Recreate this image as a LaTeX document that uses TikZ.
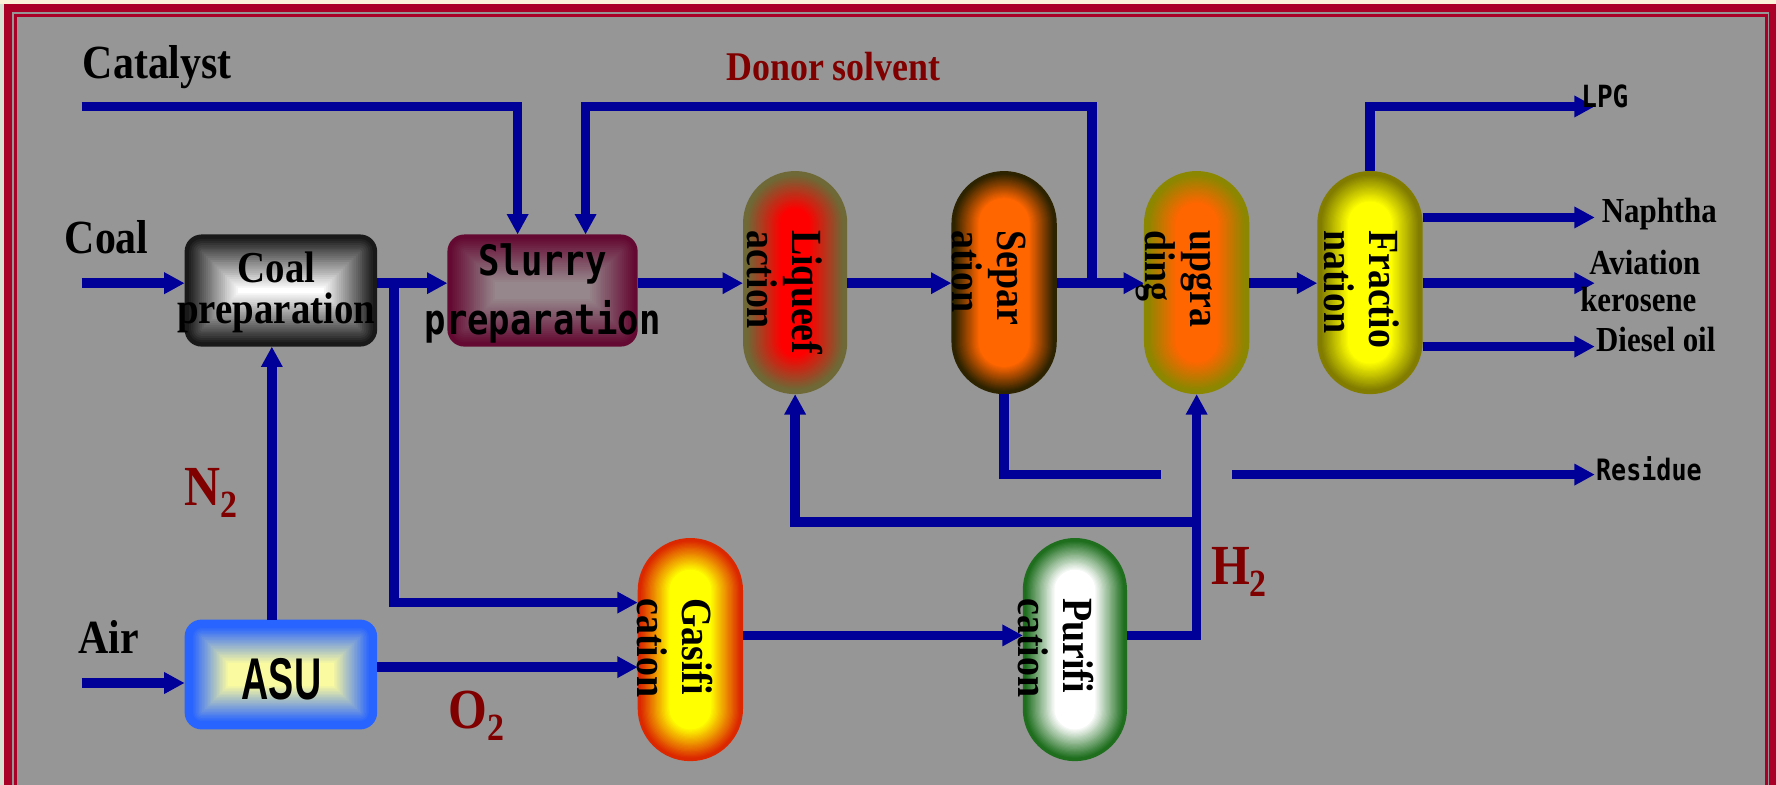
\documentclass[tikz,border=0pt]{standalone}
\usepackage{fontspec}
\setmainfont{Liberation Serif}
\newfontfamily\tms[FakeStretch=0.88]{Liberation Serif}
\newfontfamily\gothic[FakeStretch=0.85]{DejaVu Sans Mono}
\newfontfamily\narrowsans[FakeStretch=0.64]{Liberation Sans}
\usetikzlibrary{arrows.meta}
\definecolor{bggray}{RGB}{150,150,150}
\definecolor{cream}{RGB}{250,243,218}
\definecolor{leftstrip}{RGB}{215,222,210}
\definecolor{framered}{RGB}{170,0,40}
\definecolor{flowblue}{RGB}{0,0,153}
\definecolor{labelred}{RGB}{128,0,0}
\definecolor{cpOut}{RGB}{25,25,25}
\definecolor{cpIn}{RGB}{255,255,255}
\definecolor{slOut}{RGB}{100,10,50}
\definecolor{slIn}{RGB}{150,135,140}
\definecolor{asOut}{RGB}{40,100,255}
\definecolor{asIn}{RGB}{250,250,160}
\definecolor{lqOut}{RGB}{110,105,55}
\definecolor{lqIn}{RGB}{255,0,0}
\definecolor{spOut}{RGB}{45,35,0}
\definecolor{spIn}{RGB}{255,102,0}
\definecolor{ugOut}{RGB}{140,135,0}
\definecolor{ugIn}{RGB}{255,102,0}
\definecolor{frOut}{RGB}{130,125,0}
\definecolor{frIn}{RGB}{255,255,0}
\definecolor{gsOut}{RGB}{220,40,0}
\definecolor{gsIn}{RGB}{255,255,0}
\definecolor{puOut}{RGB}{30,110,30}
\definecolor{puIn}{RGB}{255,255,255}
% shape-following gradient: x1 y1 x2 y2 radius outer inner startinset endinset
\newcommand{\gradbox}[9]{%
  \fill[#6, rounded corners=#5pt] (#1,#2) rectangle (#3,#4);
  \foreach \gbk in {1,...,24}{%
    \pgfmathsetmacro{\gbi}{#8+(#9-#8)*\gbk/24}%
    \pgfmathsetmacro{\gbr}{max(#5-\gbi,0.3)}%
    \pgfmathtruncatemacro{\gbp}{100*\gbk/24}%
    \fill[#7!\gbp!#6, rounded corners=\gbr pt] (#1+\gbi,#2+\gbi) rectangle (#3-\gbi,#4-\gbi);
  }%
}
\begin{document}
\begin{tikzpicture}[x=1pt,y=-1pt,
  unit/.style={draw=none, rectangle, inner sep=0pt, outer sep=0pt},
  flow/.style={draw=flowblue, line width=8.5pt, -{Triangle[length=18pt,width=18pt]}},
  pipe/.style={draw=flowblue, line width=8.5pt},
  lbl/.style={font=\tms\bfseries\fontsize{42}{44}\selectfont, text=black, inner sep=0pt, anchor=base west},
  plbl/.style={font=\tms\bfseries\fontsize{31}{33}\selectfont, text=black, inner sep=0pt, anchor=base west},
  glbl/.style={font=\gothic\bfseries\fontsize{27}{29}\selectfont, text=black, inner sep=0pt, anchor=base west},
  chem/.style={font=\tms\bfseries\fontsize{50}{50}\selectfont, text=labelred, inner sep=0pt, anchor=base west},
  pilltext/.style={font=\tms\bfseries\fontsize{38}{40}\selectfont, text=black, rotate=-90, align=left, inner sep=0pt, anchor=west},
  boxtext/.style={font=\tms\bfseries\fontsize{39}{36}\selectfont, text=black, align=center, inner sep=0pt}
]
\useasboundingbox (0,0) rectangle (1568,693);
% frame
\fill[cream] (0,0) rectangle (1568,693);
\fill[leftstrip] (0,3.5) rectangle (3.5,693);
\fill[framered] (3.5,3.5) rectangle (1568,693);
\fill[bggray] (10.6,10.6) rectangle (1561.8,693);
\fill[framered] (12.4,12.4) rectangle (1560.5,693);
\fill[bggray] (14.7,14.7) rectangle (1558.3,693);

% gradient bodies
\gradbox{163}{207}{333}{306}{15}{cpOut}{cpIn}{2}{47}
\gradbox{395}{207}{563}{306}{15}{slOut}{slIn}{2}{42}
\gradbox{163}{547}{333}{644}{15}{asOut}{asIn}{6}{38}
\gradbox{656}{151}{748}{348}{46}{lqOut}{lqIn}{3}{33}
\gradbox{840}{151}{933}{348}{46.5}{spOut}{spIn}{2}{24}
\gradbox{1010}{151}{1103}{348}{46.5}{ugOut}{ugIn}{3}{28}
\gradbox{1163}{151}{1256}{348}{46.5}{frOut}{frIn}{3}{27}
\gradbox{563}{475}{656}{672}{46.5}{gsOut}{gsIn}{2}{28}
\gradbox{903}{475}{995}{672}{46}{puOut}{puIn}{2}{28}

% named units
\node[unit, minimum width=170pt, minimum height=99pt] (coalprep) at (248,256.5) {};
\node[unit, minimum width=168pt, minimum height=99pt] (slurry) at (479,256.5) {};
\node[unit, minimum width=170pt, minimum height=97pt] (asu) at (248,595.5) {};
\node[unit, minimum width=92pt, minimum height=197pt] (liq) at (702,249.5) {};
\node[unit, minimum width=93pt, minimum height=197pt] (sep) at (886.5,249.5) {};
\node[unit, minimum width=93pt, minimum height=197pt] (upg) at (1056.5,249.5) {};
\node[unit, minimum width=93pt, minimum height=197pt] (frac) at (1209.5,249.5) {};
\node[unit, minimum width=93pt, minimum height=197pt] (gas) at (609.5,573.5) {};
\node[unit, minimum width=92pt, minimum height=197pt] (pur) at (949,573.5) {};

% texts inside units
\node[boxtext] (coalpreptext) at (244,258) {Coal\\preparation};
\node[font=\gothic\bfseries\fontsize{37}{52}\selectfont, align=center, inner sep=0pt] (slurrytext) at (479,259) {Slurry\\preparation};
\node[font=\narrowsans\bfseries\fontsize{52}{52}\selectfont, inner sep=0pt] (asutext) at (248.5,600) {ASU};
\node[pilltext] (liqtext) at (693,203) {Liqueef\\action};
\node[pilltext] (septext) at (873,203) {Separ\\ation};
\node[pilltext] (upgtext) at (1037,203) {upgra\\ding};
\node[pilltext] (fractext) at (1202,203) {Fractio\\nation};
\node[pilltext] (gastext) at (596,528) {Gasifi\\cation};
\node[pilltext] (purtext) at (932,528) {Purifi\\cation};

% coordinates for free ends and junctions
\coordinate (catin) at (72,94);
\coordinate (coalin) at (72,250);
\coordinate (airin) at (72,603);
\coordinate (donor) at (964,250);
\coordinate (br1) at (348,250);
\coordinate (catdown) at ([xshift=-22pt]slurry.north);
\coordinate (dsin) at ([xshift=38pt]slurry.north);
\coordinate (gasin1) at ([yshift=41.5pt]gas.west);
\coordinate (o2out) at ([yshift=6.5pt]asu.east);
\coordinate (n2out) at ([xshift=-8pt]asu.north);
\coordinate (gout) at ([yshift=12.5pt]gas.east);
\coordinate (rec) at (1056.5,461);
\coordinate (resend) at (1025,419);
\coordinate (resstart) at (1088,419);
\coordinate (resarrow) at (1408,419);
\coordinate (lpgend) at (1408,94);
\coordinate (naphend) at (1408,192);
\coordinate (aviaend) at (1408,250);
\coordinate (dieselend) at (1408,306);

% connectors
\draw[flow] (catin) -| (catdown);
\draw[flow] (donor) |- (catin -| dsin) -- (dsin);
\draw[flow] (coalin) -- (coalin -| coalprep.west);
\draw[flow] (coalin -| coalprep.east) -- (coalin -| slurry.west);
\draw[flow] (br1) |- (gasin1);
\draw[flow] (coalin -| slurry.east) -- (coalin -| liq.west);
\draw[flow] (coalin -| liq.east) -- (coalin -| sep.west);
\draw[flow] (coalin -| sep.east) -- (coalin -| upg.west);
\draw[flow] (coalin -| upg.east) -- (coalin -| frac.west);
\draw[flow] (frac.north) |- (lpgend);
\draw[flow] (naphend -| frac.east) -- (naphend);
\draw[flow] (aviaend -| frac.east) -- (aviaend);
\draw[flow] (dieselend -| frac.east) -- (dieselend);
\draw[pipe] (sep.south) |- (resend);
\draw[flow] (resstart) -- (resarrow);
\draw[flow] (airin) -- (airin -| asu.west);
\draw[flow] (o2out) -- (o2out -| gas.west);
\draw[flow] (n2out) -- (n2out |- coalprep.south);
\draw[flow] (gout) -- (gout -| pur.west);
\draw[flow] (gout -| pur.east) -| (upg.south);
\draw[flow] (rec) -| (liq.south);

% labels
\node[lbl] (catalyst) at (73,69) {Catalyst};
\node[lbl] (coal) at (57,224) {Coal};
\node[lbl] (air) at (69,577) {Air};
\node[lbl, font=\tms\bfseries\fontsize{36}{38}\selectfont, text=labelred] (donorlbl) at (641,71) {Donor solvent};
\node[glbl] (lpg) at (1396,95) {LPG};
\node[plbl] (naphtha) at (1414,196) {Naphtha};
\node[plbl, align=left] (aviation) at (1403,242) {Aviation};
\node[plbl] (kerosene) at (1395,275) {kerosene};
\node[plbl] (diesel) at (1409,310.5) {Diesel oil};
\node[glbl, font=\gothic\bfseries\fontsize{26}{28}\selectfont] (residue) at (1409,424) {Residue};
\node[chem] (n2) at (163,446) {N\raisebox{-11pt}{\fontsize{34}{34}\selectfont 2}};
\node[chem] (o2) at (396,643) {O\raisebox{-11pt}{\fontsize{34}{34}\selectfont 2}};
\node[chem] (h2) at (1069,516) {H\raisebox{-11pt}{\fontsize{34}{34}\selectfont 2}};
\end{tikzpicture}
\end{document}
